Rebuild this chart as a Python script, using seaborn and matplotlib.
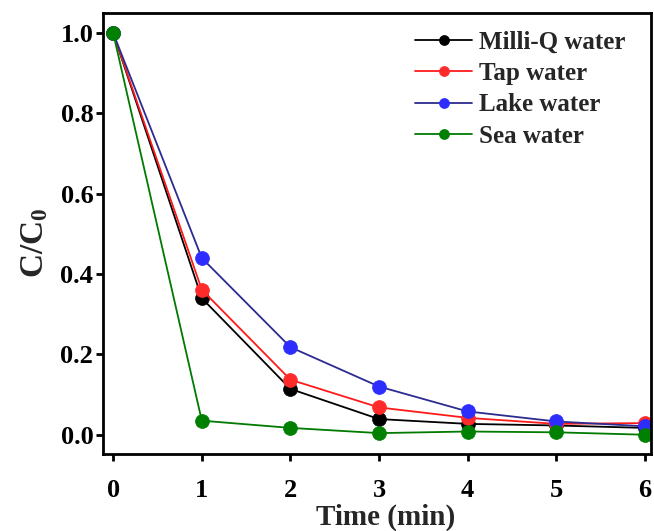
import matplotlib
matplotlib.use("Agg")
import matplotlib.pyplot as plt
import seaborn as sns
import pandas as pd

# Degradation kinetics in different water matrices
time_min = [0, 1, 2, 3, 4, 5, 6]
milli_q = [1.0, 0.340, 0.114, 0.039, 0.027, 0.023, 0.017]
tap = [1.0, 0.361, 0.137, 0.068, 0.042, 0.027, 0.029]
lake = [1.0, 0.440, 0.218, 0.120, 0.058, 0.033, 0.021]
sea = [1.0, 0.035, 0.017, 0.004, 0.008, 0.006, 0.0]

series_names = ["Milli-Q water", "Tap water", "Lake water", "Sea water"]
series_values = [milli_q, tap, lake, sea]
line_colors = ["#000000", "#ff1a1a", "#2b2b90", "#007a00"]
marker_colors = ["#000000", "#ff2b2b", "#2d2dff", "#008000"]

sns.set_theme(style="ticks")
plt.rcParams["font.family"] = ["Liberation Serif", "DejaVu Serif"]
plt.rcParams["font.weight"] = "bold"
plt.rcParams["mathtext.fontset"] = "custom"
plt.rcParams["mathtext.rm"] = "Liberation Serif:bold"
plt.rcParams["mathtext.bf"] = "Liberation Serif:bold"
plt.rcParams["mathtext.it"] = "Liberation Serif:bold"

fig = plt.figure(figsize=(6.54, 5.31), dpi=100)
ax = fig.add_axes([0.1575, 0.145, 0.838, 0.8305])

for name, vals, lc, mc in zip(series_names, series_values, line_colors, marker_colors):
    df = pd.DataFrame({"Time": time_min, "C": vals})
    sns.lineplot(data=df, x="Time", y="C", ax=ax, color=lc, linewidth=1.3,
                 marker="o", markersize=10, markerfacecolor=mc,
                 markeredgecolor=mc, markeredgewidth=0.5, label=name)

ax.set_xlim(-0.115, 6.07)
ax.set_ylim(-0.048, 1.05)
ax.set_xticks(range(0, 7))
ax.set_yticks([0.0, 0.2, 0.4, 0.6, 0.8, 1.0])
ax.set_yticklabels(["0.0", "0.2", "0.4", "0.6", "0.8", "1.0"])

for side in ["left", "right", "top", "bottom"]:
    ax.spines[side].set_visible(True)
    ax.spines[side].set_linewidth(2.0)
    ax.spines[side].set_color("black")

ax.tick_params(axis="both", direction="out", length=5, width=2,
               labelsize=19, colors="black")
ax.tick_params(axis="x", pad=13)
ax.tick_params(axis="y", pad=2)
for lab in ax.get_xticklabels() + ax.get_yticklabels():
    lab.set_fontweight("bold")

ax.set_xlabel("Time (min)", fontsize=21, fontweight="bold")
ax.xaxis.set_label_coords(0.516, -0.112)
ax.set_ylabel(r"C/C$_0$", fontsize=24, fontweight="bold")
ax.yaxis.set_label_coords(-0.097, 0.48)

leg = ax.legend(loc="upper left", bbox_to_anchor=(415 / 654, 1 - 31 / 531),
                bbox_transform=fig.transFigure, frameon=False,
                handlelength=2.28, handletextpad=0.28, labelspacing=0.33,
                borderpad=0, borderaxespad=0, markerscale=0.72,
                prop={"weight": "bold", "size": 18})

fig.savefig("out.png", dpi=100)
